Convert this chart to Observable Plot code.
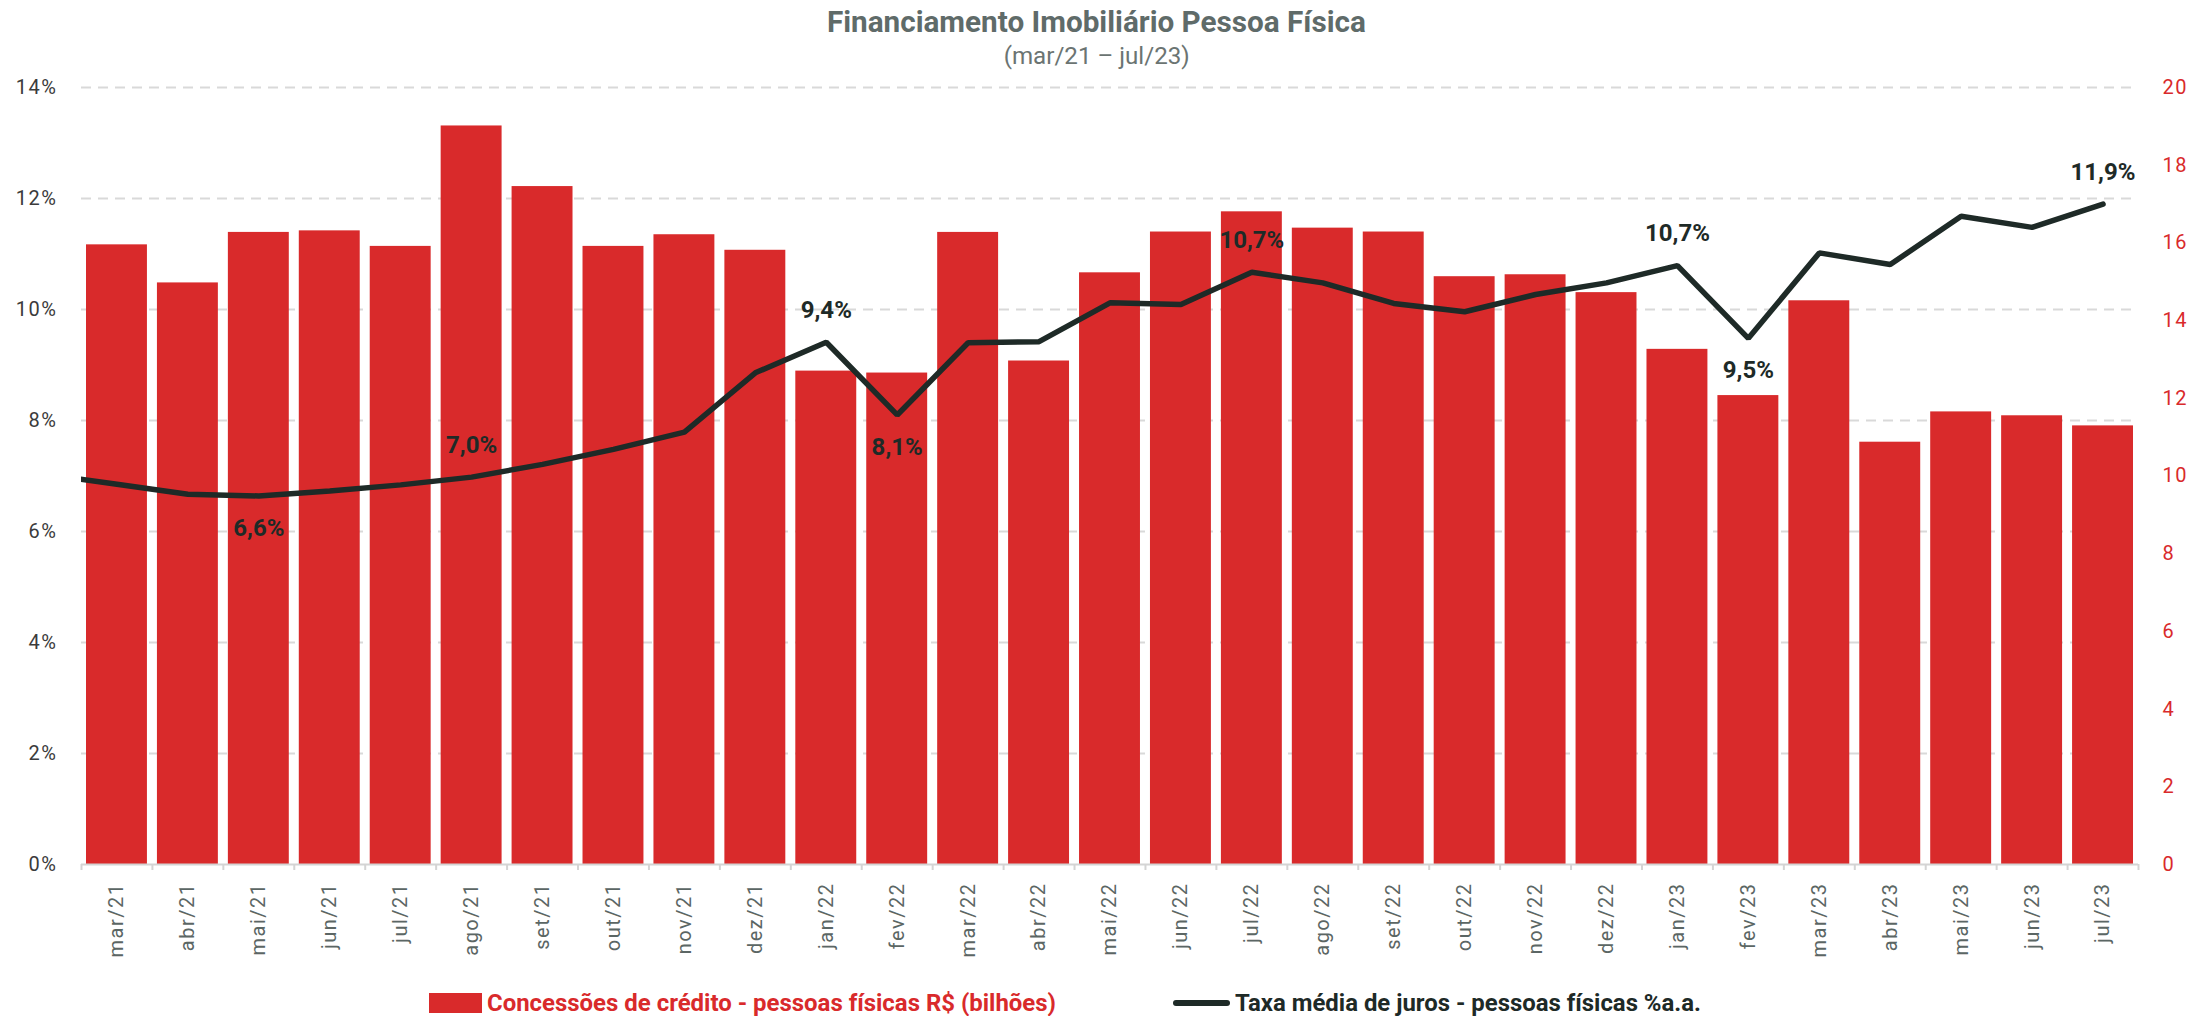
<!DOCTYPE html>
<html>
<head>
<meta charset="utf-8">
<script src="https://cdn.jsdelivr.net/npm/d3@7"></script>
<script src="https://cdn.jsdelivr.net/npm/@observablehq/plot@0.6"></script>
<style>
  html, body { margin: 0; padding: 0; background: #fff; }
  body { width: 2193px; height: 1016px; position: relative; overflow: hidden; font-family: Roboto, "Noto Sans", sans-serif; }
  .centered { position: absolute; left: 0; width: 2193px; text-align: center; white-space: nowrap; }
  .centered span { display: inline-block; transform-origin: center; }
  #title { top: 4px; font-weight: 700; font-size: 29px; color: #5f6b69; line-height: 36px; }
  #subtitle { top: 42px; font-size: 23px; color: #6b7472; line-height: 30px; }
  #chart { position: absolute; top: 72px; left: 0; width: 2193px; height: 900px; }
  #chart svg { position: absolute; top: 0; left: 0; }
  .leg { position: absolute; font-weight: 700; font-size: 24px; line-height: 30px; white-space: nowrap; transform-origin: left center; }
</style>
</head>
<body>
<div id="title" class="centered"><span data-w="539">Financiamento Imobiliário Pessoa Física</span></div>
<div id="subtitle" class="centered"><span data-w="186">(mar/21 – jul/23)</span></div>
<div id="chart"></div>
<div id="legend"></div>
<script>
// ---- data ----
const months = ["mar/21","abr/21","mai/21","jun/21","jul/21","ago/21","set/21","out/21","nov/21","dez/21",
  "jan/22","fev/22","mar/22","abr/22","mai/22","jun/22","jul/22","ago/22","set/22","out/22","nov/22","dez/22",
  "jan/23","fev/23","mar/23","abr/23","mai/23","jun/23","jul/23"];
// Concessões de crédito - pessoas físicas R$ (bilhões) — right axis
const concessoes = [15.95,14.97,16.27,16.31,15.91,19.01,17.45,15.91,16.21,15.81,
  12.70,12.65,16.27,12.96,15.23,16.28,16.80,16.38,16.28,15.13,15.18,14.72,
  13.26,12.07,14.51,10.87,11.65,11.55,11.29];
// Taxa média de juros - pessoas físicas %a.a. — left axis
const taxa = [6.85,6.67,6.64,6.73,6.84,6.98,7.21,7.48,7.79,8.86,
  9.41,8.10,9.40,9.42,10.12,10.09,10.67,10.48,10.11,9.96,10.27,10.48,
  10.79,9.48,11.02,10.81,11.68,11.48,11.90];
// line enters from the left edge of the plot (previous month, estimated)
const taxaLeadIn = {month: "fev/21", value: 7.03};
const labelMonths = ["mai/21","ago/21","jan/22","fev/22","jul/22","jan/23","fev/23","jul/23"];
const labelTexts  = ["6,6%","7,0%","9,4%","8,1%","10,7%","10,7%","9,5%","11,9%"];
const labelSides  = ["below","above","above","below","above","above","below","above"];
const leftTicks = [0,2,4,6,8,10,12,14];
const rightTicks = [0,2,4,6,8,10,12,14,16,18,20];
const legendItems = ["Concessões de crédito - pessoas físicas R$ (bilhões)", "Taxa média de juros - pessoas físicas %a.a."];

// ---- styling ----
const RED = "#d92a2b", DARK = "#1e2a27";
const W = 2193, H = 900;
const common = {
  width: W, height: H, marginLeft: 81, marginRight: 55, marginTop: 15, marginBottom: 108,
  x: {type: "linear", domain: [-0.5, months.length - 0.5], axis: null},
  style: {fontFamily: "Roboto, 'Noto Sans', sans-serif", background: "transparent", overflow: "visible"}
};
const bars = months.map((m, i) => ({month: m, i, v: concessoes[i]}));
const line = [{month: taxaLeadIn.month, i: -1, v: taxaLeadIn.value}, ...months.map((m, i) => ({month: m, i, v: taxa[i]}))];
const labels = labelMonths.map((m, k) => ({i: months.indexOf(m), v: taxa[months.indexOf(m)], text: labelTexts[k], side: labelSides[k]}));
const gridTicks = leftTicks.filter(t => t > 0);
const boundaries = d3.range(months.length + 1).map(k => k - 0.5);

// Plot 1: grid + left axis
const p1 = Plot.plot({
  ...common,
  y: {domain: [0, 14], axis: null},
  marks: [
    Plot.ruleY(gridTicks, {stroke: "#d9d9d9", strokeWidth: 2, strokeDasharray: "10,7"}),
    Plot.axisY({anchor: "left", ticks: leftTicks, tickSize: 0, tickPadding: 24, tickFormat: d => d + "%", fontSize: 20, color: "#3b3b3b", label: null})
  ]
});
// Plot 2: bars + x axis + right axis
const p2 = Plot.plot({
  ...common,
  y: {domain: [0, 20], axis: null},
  marks: [
    Plot.rect(bars, {x1: d => d.i - 0.5, x2: d => d.i + 0.5, y1: 0, y2: "v", fill: RED, insetLeft: 5, insetRight: 5}),
    Plot.ruleY([0], {stroke: "#d4d4d4", strokeWidth: 2}),
    Plot.axisX({ticks: boundaries, tickSize: 6, tickFormat: () => "", stroke: "#d4d4d4", strokeWidth: 2, label: null}),
    Plot.axisX({ticks: d3.range(months.length), tickFormat: i => months[i], tickRotate: -90, tickSize: 0, tickPadding: 18, fontSize: 20, color: "#5b6664", label: null}),
    Plot.axisY({anchor: "right", ticks: rightTicks, tickSize: 0, tickPadding: 24, fontSize: 20, color: RED, label: null})
  ]
});
// Plot 3: line + labels
const p3 = Plot.plot({
  ...common,
  y: {domain: [0, 14], axis: null},
  marks: [
    Plot.line(line, {x: "i", y: "v", stroke: DARK, strokeWidth: 5.5, clip: true, strokeLinejoin: "miter"}),
    Plot.text(labels.filter(d => d.side === "above"), {x: "i", y: "v", text: "text", dy: -32, fontSize: 24, fontWeight: 700, fill: DARK}),
    Plot.text(labels.filter(d => d.side === "below"), {x: "i", y: "v", text: "text", dy: 32, fontSize: 24, fontWeight: 700, fill: DARK})
  ]
});
const chart = document.getElementById("chart");
[p1, p2, p3].forEach(p => chart.appendChild(p));
[p1, p2].forEach(p => p.querySelectorAll('g[aria-label$="tick label"]').forEach(g => g.style.letterSpacing = "1.5px"));

// legend
const legend = document.getElementById("legend");
legend.innerHTML = `
  <div style="position:absolute;left:429px;top:993px;width:53px;height:20px;background:${RED}"></div>
  <div class="leg" data-w="569" style="left:487px;top:988px;color:${RED}">${legendItems[0]}</div>
  <div style="position:absolute;left:1173px;top:1000px;width:57px;height:6px;border-radius:3px;background:${DARK}"></div>
  <div class="leg" data-w="466" style="left:1235px;top:988px;color:${DARK}">${legendItems[1]}</div>`;

// fit text blocks to the widths measured on the reference
function fit() {
  document.querySelectorAll("[data-w]").forEach(el => {
    el.style.transform = "";
    const w = el.getBoundingClientRect().width;
    if (w > 0) el.style.transform = `scaleX(${(+el.dataset.w / w).toFixed(4)})`;
  });
}
fit();
if (document.fonts && document.fonts.ready) document.fonts.ready.then(fit);
</script>
</body>
</html>
